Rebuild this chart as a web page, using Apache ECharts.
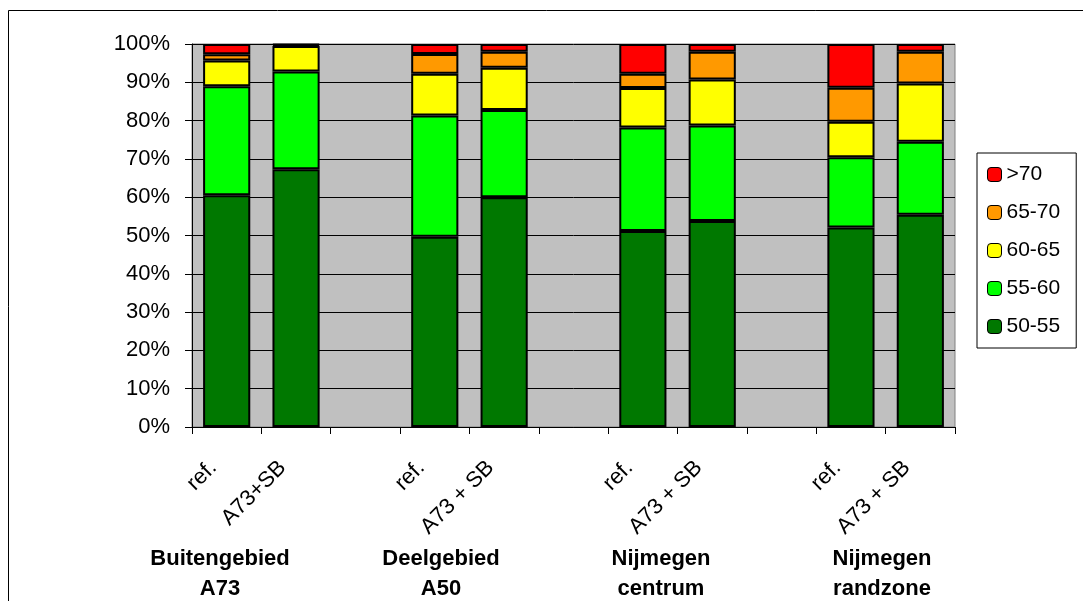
<!DOCTYPE html>
<html>
<head>
<meta charset="utf-8">
<title>Geluidsbelasting per gebied</title>
<script src="https://cdn.jsdelivr.net/npm/echarts@6/dist/echarts.min.js"></script>
<style>
  html, body { margin: 0; padding: 0; background: #fff; }
  #chart { width: 1083px; height: 601px; }
</style>
</head>
<body>
<div id="chart"></div>
<script>
// categories (empty slots are the gaps between the areas)
var categories = ['ref.', 'A73+SB', '', 'ref.', 'A73 + SB', '', 'ref.', 'A73 + SB', '', 'ref.', 'A73 + SB']
var groups = ['Buitengebied\nA73', 'Deelgebied\nA50', 'Nijmegen\ncentrum', 'Nijmegen\nrandzone']

// share of the area per noise class, in %
var s5055 = [60.5, 67.3, null, 49.7, 60.0, null, 51.2, 53.8, null, 52.1, 55.4]
var s5560 = [28.5, 25.5, null, 31.6, 22.8, null, 27.0, 24.9, null, 18.3, 19.1]
var s6065 = [6.7, 6.7, null, 10.9, 11.0, null, 10.3, 12.0, null, 9.3, 15.2]
var s6570 = [1.6, 0.3, null, 5.2, 4.2, null, 3.7, 7.3, null, 8.9, 8.3]
var s70 = [2.7, 0.2, null, 2.6, 2.0, null, 7.8, 2.0, null, 11.4, 2.0]

var seriesNames = ['50-55', '55-60', '60-65', '65-70', '>70']
var seriesData = [s5055, s5560, s6065, s6570, s70]
var colors = ['#007800', '#00ff00', '#ffff00', '#ff9900', '#ff0000']

var font = 'Liberation Sans, Arial, sans-serif'
var chart = echarts.init(document.getElementById('chart'))

// group label centres (px)
var groupX = [220, 441, 661, 882]

chart.setOption({
  animation: false,
  textStyle: { fontFamily: font },
  grid: {
    left: 192,
    right: 128,
    top: 44,
    bottom: 174,
    show: true,
    backgroundColor: '#c0c0c0',
    borderColor: '#808080',
    borderWidth: 1
  },
  legend: {
    orient: 'vertical',
    left: 977,
    top: 153,
    data: ['>70', '65-70', '60-65', '55-60', '50-55'],
    itemWidth: 14,
    itemHeight: 14,
    itemGap: 17,
    padding: [11, 16, 11, 10],
    borderColor: '#000',
    borderWidth: 1,
    itemStyle: { borderColor: '#000', borderWidth: 1 },
    textStyle: { fontSize: 21, color: '#000', fontFamily: font }
  },
  xAxis: {
    type: 'category',
    data: categories,
    axisLine: { lineStyle: { color: '#000', width: 1 } },
    axisTick: { show: true, length: 7, lineStyle: { color: '#000' } },
    axisLabel: {
      rotate: 45,
      interval: 0,
      margin: 24,
      padding: [0, 19, 0, 0],
      fontSize: 22,
      color: '#000',
      fontFamily: font
    }
  },
  yAxis: {
    type: 'value',
    min: 0,
    max: 100,
    interval: 10,
    axisLine: { show: true, lineStyle: { color: '#000', width: 1 } },
    axisTick: { show: true, length: 7, lineStyle: { color: '#000' } },
    axisLabel: {
      formatter: '{value}%',
      margin: 22,
      fontSize: 22,
      color: '#000',
      fontFamily: font
    },
    splitLine: { lineStyle: { color: '#000', width: 1 } }
  },
  series: seriesNames.map(function(name, i) {
    return {
      name: name,
      type: 'bar',
      stack: 'total',
      barWidth: '68%',
      data: seriesData[i],
      itemStyle: {
        color: colors[i],
        borderColor: '#000',
        borderWidth: 2
      }
    }
  }),
  graphic: [
    {
      type: 'rect',
      silent: true,
      shape: { x: 8.5, y: 10.5, width: 1200, height: 800 },
      style: { fill: 'none', stroke: '#000', lineWidth: 1 }
    }
  ].concat(groups.map(function(g, i) {
    return {
      type: 'text',
      silent: true,
      x: groupX[i],
      y: 544,
      style: {
        text: g,
        fill: '#000',
        font: 'bold 22px ' + font,
        align: 'center',
        verticalAlign: 'top',
        lineHeight: 30
      }
    }
  }))
})
</script>
</body>
</html>
